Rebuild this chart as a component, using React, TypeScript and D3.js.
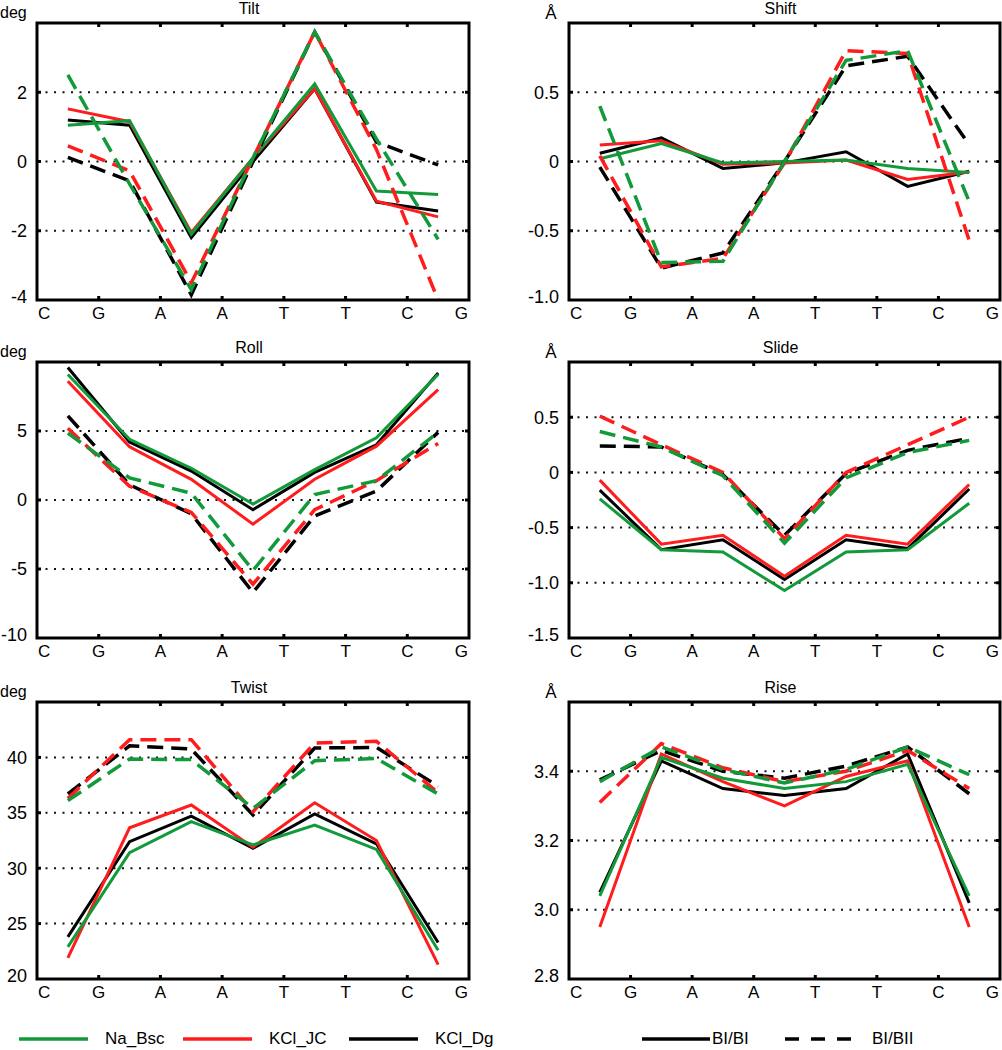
import React from "react";
import * as d3 from "d3";

const bases = ["C", "G", "A", "A", "T", "T", "C", "G"];

// Tilt (deg)
const tiltNaBscBIBI = [1.05, 1.18, -2.1, 0.1, 2.24, -0.85, -0.95];
const tiltKClJCBIBI = [1.52, 1.15, -2.05, 0.1, 2.1, -1.15, -1.6];
const tiltKClDgBIBI = [1.2, 1.05, -2.2, 0.0, 2.1, -1.17, -1.43];
const tiltNaBscBIBII = [2.5, -0.65, -3.7, 0.1, 3.74, 0.65, -2.25];
const tiltKClJCBIBII = [0.45, -0.27, -3.5, 0.1, 3.74, 0.35, -4.0];
const tiltKClDgBIBII = [0.12, -0.56, -3.85, 0.0, 3.74, 0.56, -0.1];

// Shift (Å)
const shiftNaBscBIBI = [0.02, 0.13, -0.01, 0.0, 0.01, -0.05, -0.08];
const shiftKClJCBIBI = [0.12, 0.15, -0.02, -0.01, 0.01, -0.13, -0.075];
const shiftKClDgBIBI = [0.06, 0.17, -0.05, -0.01, 0.07, -0.18, -0.07];
const shiftNaBscBIBII = [0.4, -0.73, -0.72, 0.0, 0.73, 0.8, -0.29];
const shiftKClJCBIBII = [0.04, -0.76, -0.7, -0.01, 0.8, 0.78, -0.57];
const shiftKClDgBIBII = [-0.04, -0.77, -0.66, 0.0, 0.69, 0.76, 0.12];

// Roll (deg)
const rollNaBscBIBI = [9.1, 4.4, 2.3, -0.3, 2.2, 4.5, 9.1];
const rollKClJCBIBI = [8.6, 3.85, 1.5, -1.75, 1.5, 3.9, 8.0];
const rollKClDgBIBI = [9.6, 4.2, 2.1, -0.7, 2.0, 4.0, 9.2];
const rollNaBscBIBII = [4.85, 1.6, 0.5, -5.1, 0.4, 1.4, 4.9];
const rollKClJCBIBII = [5.2, 1.0, -0.9, -6.1, -0.7, 1.4, 4.1];
const rollKClDgBIBII = [6.1, 1.1, -1.0, -6.7, -1.15, 0.65, 4.9];

// Slide (Å)
const slideNaBscBIBI = [-0.24, -0.7, -0.72, -1.07, -0.72, -0.7, -0.28];
const slideKClJCBIBI = [-0.07, -0.65, -0.57, -0.94, -0.57, -0.65, -0.11];
const slideKClDgBIBI = [-0.16, -0.7, -0.61, -0.97, -0.61, -0.69, -0.15];
const slideNaBscBIBII = [0.37, 0.23, -0.03, -0.64, -0.05, 0.18, 0.29];
const slideKClJCBIBII = [0.51, 0.25, 0.0, -0.6, 0.0, 0.25, 0.5];
const slideKClDgBIBII = [0.24, 0.23, -0.02, -0.57, -0.01, 0.2, 0.31];

// Twist (deg)
const twistNaBscBIBI = [22.9, 31.4, 34.2, 32.1, 33.9, 31.7, 22.6];
const twistKClJCBIBI = [21.9, 33.65, 35.7, 31.9, 35.9, 32.5, 21.3];
const twistKClDgBIBI = [23.8, 32.4, 34.7, 31.8, 34.9, 32.2, 23.3];
const twistNaBscBIBII = [36.1, 39.85, 39.8, 35.4, 39.7, 39.9, 36.7];
const twistKClJCBIBII = [36.3, 41.6, 41.6, 35.1, 41.3, 41.45, 36.8];
const twistKClDgBIBII = [36.7, 41.05, 40.75, 34.8, 40.85, 40.9, 37.4];

// Rise (Å)
const riseNaBscBIBI = [3.04, 3.44, 3.38, 3.35, 3.37, 3.42, 3.04];
const riseKClJCBIBI = [2.95, 3.45, 3.37, 3.3, 3.385, 3.43, 2.95];
const riseKClDgBIBI = [3.05, 3.43, 3.35, 3.33, 3.35, 3.45, 3.02];
const riseNaBscBIBII = [3.37, 3.47, 3.405, 3.366, 3.405, 3.47, 3.39];
const riseKClJCBIBII = [3.31, 3.48, 3.41, 3.37, 3.4, 3.46, 3.35];
const riseKClDgBIBII = [3.375, 3.46, 3.4, 3.38, 3.415, 3.47, 3.335];

const tiltTicks = [2, 0, -2, -4];
const shiftTicks = [0.5, 0, -0.5, -1.0];
const rollTicks = [5, 0, -5, -10];
const slideTicks = [0.5, 0, -0.5, -1.0, -1.5];
const twistTicks = [40, 35, 30, 25, 20];
const riseTicks = [3.4, 3.2, 3.0, 2.8];

const GREEN = "#12993a";
const RED = "#ff1c1c";
const BLACK = "#000000";
const FONT = "'Liberation Sans', Arial, Helvetica, sans-serif";

type Panel = {
  title: string;
  unit: string;
  domain: [number, number];
  ticks: number[];
  fmt: (v: number) => string;
  bibi: number[][];
  bibii: number[][];
  col: number;
  row: number;
};

const fmtInt = (v: number) => (v === 0 ? "0" : String(v));
const fmt1 = (v: number) => (v === 0 ? "0" : v.toFixed(1));

const panels: Panel[] = [
  { title: "Tilt", unit: "deg", domain: [-4, 4], ticks: tiltTicks, fmt: fmtInt,
    bibi: [tiltNaBscBIBI, tiltKClJCBIBI, tiltKClDgBIBI], bibii: [tiltNaBscBIBII, tiltKClJCBIBII, tiltKClDgBIBII], col: 0, row: 0 },
  { title: "Shift", unit: "Å", domain: [-1, 1], ticks: shiftTicks, fmt: fmt1,
    bibi: [shiftNaBscBIBI, shiftKClJCBIBI, shiftKClDgBIBI], bibii: [shiftNaBscBIBII, shiftKClJCBIBII, shiftKClDgBIBII], col: 1, row: 0 },
  { title: "Roll", unit: "deg", domain: [-10, 10], ticks: rollTicks, fmt: fmtInt,
    bibi: [rollNaBscBIBI, rollKClJCBIBI, rollKClDgBIBI], bibii: [rollNaBscBIBII, rollKClJCBIBII, rollKClDgBIBII], col: 0, row: 1 },
  { title: "Slide", unit: "Å", domain: [-1.5, 1.0], ticks: slideTicks, fmt: fmt1,
    bibi: [slideNaBscBIBI, slideKClJCBIBI, slideKClDgBIBI], bibii: [slideNaBscBIBII, slideKClJCBIBII, slideKClDgBIBII], col: 1, row: 1 },
  { title: "Twist", unit: "deg", domain: [20, 45], ticks: twistTicks, fmt: fmtInt,
    bibi: [twistNaBscBIBI, twistKClJCBIBI, twistKClDgBIBI], bibii: [twistNaBscBIBII, twistKClJCBIBII, twistKClDgBIBII], col: 0, row: 2 },
  { title: "Rise", unit: "Å", domain: [2.8, 3.6], ticks: riseTicks, fmt: fmt1,
    bibi: [riseNaBscBIBI, riseKClJCBIBI, riseKClDgBIBI], bibii: [riseNaBscBIBII, riseKClJCBIBII, riseKClDgBIBII], col: 1, row: 2 },
];

const seriesColors = [GREEN, RED, BLACK];
const colX: [number, number][] = [[37, 469], [569, 1000]];
const rowY: [number, number][] = [[23, 300], [362, 638], [702, 979]];

function PanelView({ p }: { p: Panel }) {
  const [x0, x1] = colX[p.col];
  const [y0, y1] = rowY[p.row];
  const x = d3.scaleLinear().domain([0, bases.length - 1]).range([x0, x1]);
  const y = d3.scaleLinear().domain(p.domain).range([y1, y0]);
  const line = d3
    .line<number>()
    .x((_, i) => x(i + 0.5))
    .y((d) => y(d));
  const [dMin] = p.domain;
  const gridVals = p.ticks.filter((t) => Math.abs(t - dMin) > 1e-9);
  const cx = (x0 + x1) / 2;
  const order = [2, 1, 0];
  return (
    <g>
      <text x={cx - 4} y={y0 - 9} fontSize={16} textAnchor="middle" fontFamily={FONT}>{p.title}</text>
      {p.unit === "deg" ? (
        <text x={0} y={y0 - 5} fontSize={16} fontFamily={FONT}>{p.unit}</text>
      ) : (
        <text x={x0 - 18} y={y0 - 4} fontSize={17} textAnchor="middle" fontFamily={FONT}>{p.unit}</text>
      )}
      {gridVals.map((t) => (
        <line key={"g" + t} x1={x0} x2={x1} y1={y(t)} y2={y(t)} stroke="#111" strokeWidth={2} strokeDasharray="2,6.5" />
      ))}
      {p.ticks.map((t) => {
        const bottom = Math.abs(t - dMin) < 1e-9;
        return (
          <text key={"t" + t} x={x0 - 10} y={y(t) + (bottom ? -3 : 0)} dy="0.36em" fontSize={18} textAnchor="end" fontFamily={FONT}>
            {p.fmt(t)}
          </text>
        );
      })}
      {gridVals.map((t) => (
        <g key={"yt" + t}>
          <line x1={x0} x2={x0 + 4} y1={y(t)} y2={y(t)} stroke="#000" strokeWidth={3} />
          <line x1={x1} x2={x1 - 4} y1={y(t)} y2={y(t)} stroke="#000" strokeWidth={3} />
        </g>
      ))}
      {bases.map((b, i) =>
        i > 0 && i < bases.length - 1 ? (
          <g key={"xt" + i}>
            <line x1={x(i)} x2={x(i)} y1={y0} y2={y0 + 4} stroke="#000" strokeWidth={3} />
            <line x1={x(i)} x2={x(i)} y1={y1} y2={y1 - 4} stroke="#000" strokeWidth={3} />
          </g>
        ) : null
      )}
      {bases.map((b, i) => (
        <text
          key={"xl" + i}
          x={i === 0 ? x(i) + 1 : i === bases.length - 1 ? x(i) - 1 : x(i)}
          y={y1 + 19}
          fontSize={17}
          textAnchor={i === 0 ? "start" : i === bases.length - 1 ? "end" : "middle"}
          fontFamily={FONT}
        >
          {b}
        </text>
      ))}
      {order.map((k) => (
        <path key={"s" + k} d={line(p.bibi[k]) || ""} fill="none" stroke={seriesColors[k]} strokeWidth={3} strokeLinejoin="miter" />
      ))}
      {order.map((k) => (
        <path key={"d" + k} d={line(p.bibii[k]) || ""} fill="none" stroke={seriesColors[k]} strokeWidth={3.5} strokeDasharray="16,8" />
      ))}
      <rect x={x0} y={y0} width={x1 - x0} height={y1 - y0} fill="none" stroke="#000" strokeWidth={3} />
    </g>
  );
}

const legendNames = ["Na_Bsc", "KCl_JC", "KCl_Dg"];
const legendStyles = ["BI/BI", "BI/BII"];

export default function App() {
  return (
    <div style={{ position: "absolute", left: 0, top: 0 }}>
      <svg width={1002} height={1050} style={{ display: "block", background: "#fff" }}>
        {panels.map((p) => (
          <PanelView key={p.title} p={p} />
        ))}
        {legendNames.map((n, i) => {
          const lx = [19, 183, 349][i];
          return (
            <g key={n}>
              <line x1={lx} x2={lx + 69} y1={1039} y2={1039} stroke={seriesColors[i]} strokeWidth={3.5} />
              <text x={lx + 86} y={1044} fontSize={17} fontFamily={FONT}>{n}</text>
            </g>
          );
        })}
        {legendStyles.map((n, i) => {
          const lx = [642, 785][i];
          return (
            <g key={n}>
              <line x1={lx} x2={lx + 68} y1={1039} y2={1039} stroke="#000" strokeWidth={3.5} strokeDasharray={i === 0 ? undefined : "14,12"} />
              <text x={i === 0 ? lx + 70 : lx + 87} y={1044} fontSize={17} fontFamily={FONT}>{n}</text>
            </g>
          );
        })}
      </svg>
    </div>
  );
}
